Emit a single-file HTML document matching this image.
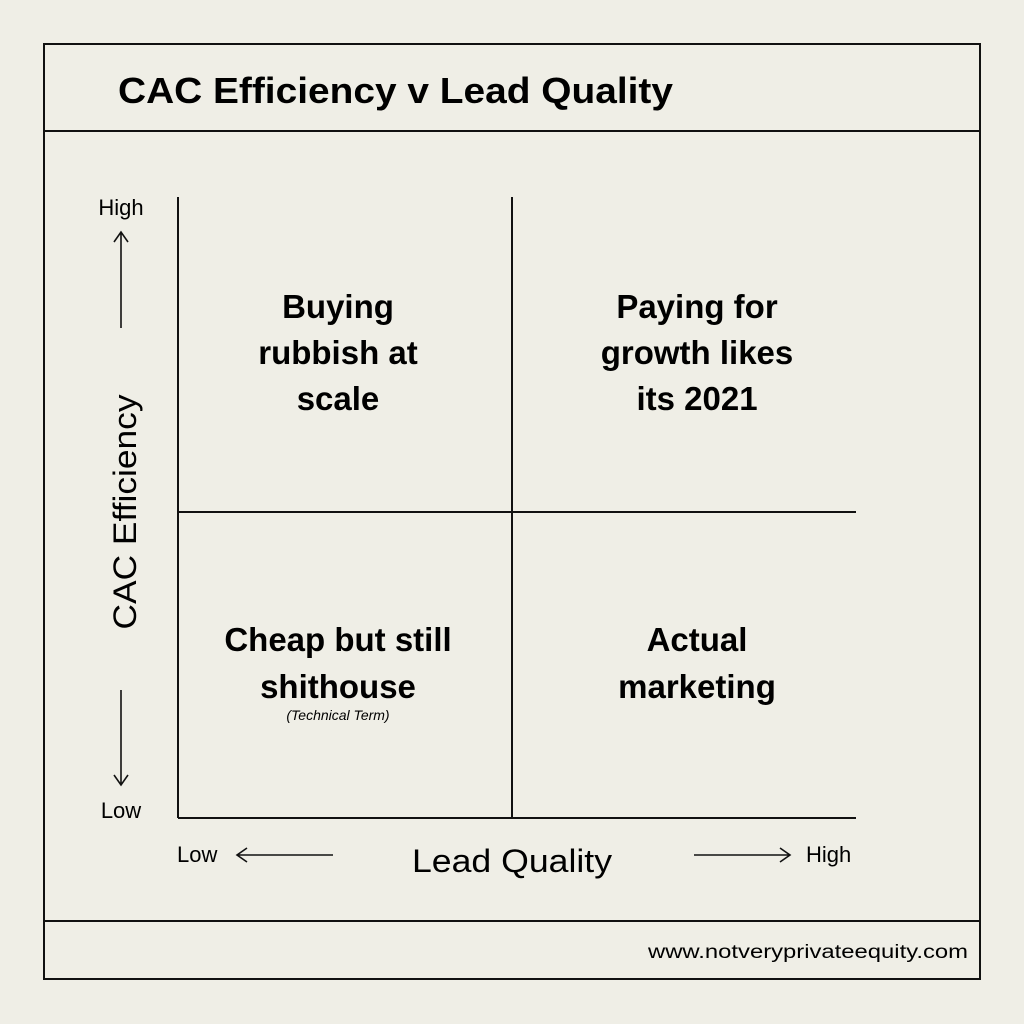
<!DOCTYPE html>
<html><head><meta charset="utf-8"><style>
html,body{margin:0;padding:0;background:#efeee6;}
svg{display:block;font-family:"Liberation Sans",sans-serif;}
</style></head><body>
<svg width="1024" height="1024" viewBox="0 0 1024 1024">
<rect x="0" y="0" width="1024" height="1024" fill="#efeee6"/>
<g stroke="#111" stroke-width="2" fill="none">
<rect x="44" y="44" width="936" height="935"/>
<line x1="44" y1="131" x2="980" y2="131"/>
<line x1="44" y1="921" x2="980" y2="921"/>
<line x1="178" y1="197" x2="178" y2="818"/>
<line x1="178" y1="818" x2="856" y2="818"/>
<line x1="512" y1="197" x2="512" y2="818"/>
<line x1="178" y1="512" x2="856" y2="512"/>
<g stroke-width="1.6">
<path d="M121 328 V232 M114 242 L121 232 L128 242"/>
<path d="M121 690 V785 M114 775 L121 785 L128 775"/>
<path d="M333 855 H237 M247 848 L237 855 L247 862"/>
<path d="M694 855 H790 M780 848 L790 855 L780 862"/>
</g>
</g>
<text x="118" y="103" font-size="36" font-weight="bold" textLength="555" lengthAdjust="spacingAndGlyphs" fill="#000">CAC Efficiency v Lead Quality</text>
<g font-size="33" font-weight="bold" text-anchor="middle" fill="#000">
<text x="338" y="318"><tspan x="338">Buying</tspan><tspan x="338" dy="46">rubbish at</tspan><tspan x="338" dy="46">scale</tspan></text>
<text x="697" y="318"><tspan x="697">Paying for</tspan><tspan x="697" dy="46">growth likes</tspan><tspan x="697" dy="46">its 2021</tspan></text>
<text x="338" y="651"><tspan x="338">Cheap but still</tspan><tspan x="338" dy="47">shithouse</tspan></text>
<text x="697" y="651"><tspan x="697">Actual</tspan><tspan x="697" dy="47">marketing</tspan></text>
</g>
<text x="338" y="720" font-size="14" font-style="italic" text-anchor="middle" fill="#000">(Technical Term)</text>
<text x="121" y="215" font-size="22" text-anchor="middle" fill="#000">High</text>
<text x="121" y="818" font-size="22" text-anchor="middle" fill="#000">Low</text>
<text x="136" y="512" font-size="32" text-anchor="middle" transform="rotate(-90 136 512)" textLength="235" lengthAdjust="spacingAndGlyphs" fill="#000">CAC Efficiency</text>
<text x="177" y="862" font-size="22" fill="#000">Low</text>
<text x="806" y="862" font-size="22" fill="#000">High</text>
<text x="512" y="872" font-size="32" text-anchor="middle" textLength="200" lengthAdjust="spacingAndGlyphs" fill="#000">Lead Quality</text>
<text x="968" y="958" font-size="19" text-anchor="end" textLength="320" lengthAdjust="spacingAndGlyphs" fill="#000">www.notveryprivateequity.com</text>
</svg>
</body></html>
